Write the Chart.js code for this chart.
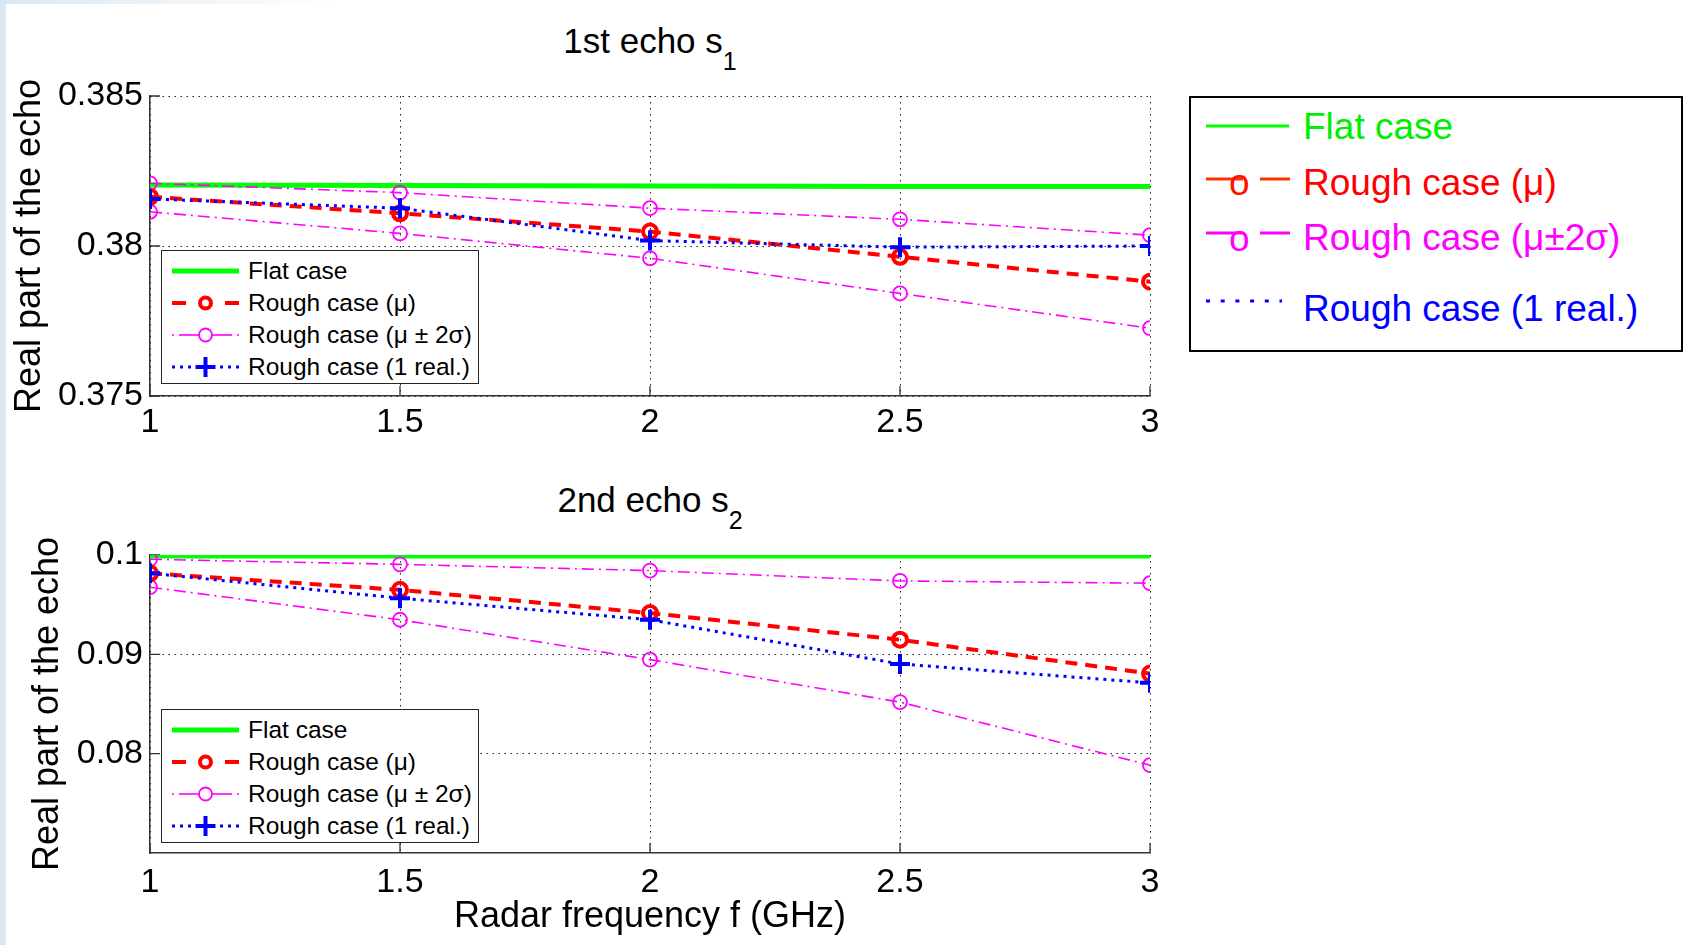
<!DOCTYPE html>
<html>
<head>
<meta charset="utf-8">
<title>Real part of the echo vs radar frequency</title>
<script src="https://cdn.jsdelivr.net/npm/chart.js@4.4.1/dist/chart.umd.min.js"></script>
<style>
  html, body { margin: 0; padding: 0; }
  body {
    width: 1686px; height: 945px; position: relative; overflow: hidden;
    background: #fff; font-family: "Liberation Sans", Arial, sans-serif; color: #000;
  }
  .edge { position: absolute; left: 0; top: 0; width: 6px; height: 945px; background: #dbe8f1; }
  .edgeTop { position: absolute; left: 0; top: 0; width: 340px; height: 4px;
    background: linear-gradient(to right, #dbe8f1, rgba(219,232,241,0)); }
  canvas { position: absolute; left: 0; }
  .title { position: absolute; left: 150px; width: 1000px; text-align: center;
    font-size: 35px; line-height: 35px; white-space: nowrap; }
  .title sub { font-size: 25px; vertical-align: baseline; position: relative; top: 17px; }
  .legend { position: absolute; width: 318px; height: 134px; background: #fff;
    border: 1px solid #262626; box-sizing: border-box; }
  .legend .row { position: absolute; left: 0; height: 32px; display: flex; align-items: center; }
  .legend svg { margin-left: 10px; margin-right: 9px; }
  .legend span { font-size: 24.5px; line-height: 24px; white-space: nowrap; }
  .bigLegend { position: absolute; left: 1189px; top: 96px; width: 494px; height: 256px;
    border: 2px solid #000; box-sizing: border-box; }
  .bigText { position: absolute; left: 1303px; font-size: 37px; line-height: 37px; white-space: nowrap; }
</style>
</head>
<body>
<div class="edge"></div>
<div class="edgeTop"></div>

<div class="title" style="top:23px">1st echo s<sub>1</sub></div>
<canvas id="echo1" width="1175" height="446" style="top:0px"></canvas>

<div class="title" style="top:482px">2nd echo s<sub>2</sub></div>
<canvas id="echo2" width="1175" height="485" style="top:460px"></canvas>

<!-- big legend on the right -->
<div class="bigLegend"></div>
<svg style="position:absolute;left:1190px;top:96px" width="110" height="256">
  <line x1="16" y1="30" x2="99" y2="30" stroke="#00ff00" stroke-width="3"/>
  <line x1="16" y1="83" x2="53" y2="83" stroke="#ff3000" stroke-width="3"/>
  <line x1="70" y1="83" x2="100" y2="83" stroke="#ff3000" stroke-width="3"/>
  <text x="39" y="99" fill="#ff1000" font-size="37" font-family="Liberation Sans, Arial, sans-serif">o</text>
  <line x1="16" y1="137" x2="53" y2="137" stroke="#ff00ff" stroke-width="3"/>
  <line x1="70" y1="137" x2="100" y2="137" stroke="#ff00ff" stroke-width="3"/>
  <text x="39" y="155" fill="#ff00ff" font-size="37" font-family="Liberation Sans, Arial, sans-serif">o</text>
  <line x1="16" y1="205" x2="92" y2="205" stroke="#0000ff" stroke-width="3" stroke-dasharray="4 10.7"/>
</svg>
<div class="bigText" style="top:108px;color:#00ee00">Flat case</div>
<div class="bigText" style="top:164px;color:#ff0000">Rough case (μ)</div>
<div class="bigText" style="top:219px;color:#ff00ff">Rough case (μ±2σ)</div>
<div class="bigText" style="top:290px;color:#0000ff">Rough case (1 real.)</div>

<script>
// Radar frequency (GHz)
const freqGHz = [1, 1.5, 2, 2.5, 3];
const xTickLabels = ['1', '1.5', '2', '2.5', '3'];

// 1st echo s1 - real part
const echo1Flat  = [0.38203, 0.38202, 0.38200, 0.38198, 0.38198];
const echo1Mean  = [0.38164, 0.38109, 0.38048, 0.37964, 0.37881];
const echo1Upper = [0.38209, 0.38178, 0.38126, 0.38089, 0.38036];
const echo1Lower = [0.38114, 0.38042, 0.37959, 0.37842, 0.37726];
const echo1Real  = [0.38157, 0.38126, 0.38018, 0.37996, 0.38000];
const echo1YTicks  = [0.375, 0.38, 0.385];
const echo1YLabels = ['0.375', '0.38', '0.385'];

// 2nd echo s2 - real part
const echo2Flat  = [0.0999, 0.0999, 0.0999, 0.0999, 0.0999];
const echo2Mean  = [0.09816, 0.09649, 0.09415, 0.09147, 0.08806];
const echo2Upper = [0.09957, 0.09906, 0.09843, 0.09739, 0.09716];
const echo2Lower = [0.09676, 0.09348, 0.08947, 0.08519, 0.07884];
const echo2Real  = [0.09816, 0.09565, 0.09348, 0.08903, 0.08713];
const echo2YTicks  = [0.08, 0.09, 0.1];
const echo2YLabels = ['0.08', '0.09', '0.1'];

const FONT = "'Liberation Sans', Arial, sans-serif";
Chart.defaults.font.family = FONT;
Chart.defaults.color = '#000';

// MATLAB style short tick marks pointing into the axes
const inwardTicks = {
  id: 'inwardTicks',
  beforeDatasetsDraw(chart) {
    const { ctx, chartArea: a, scales: { x, y } } = chart;
    ctx.save();
    ctx.strokeStyle = '#333';
    ctx.lineWidth = 1.3;
    ctx.beginPath();
    x.ticks.forEach(t => {
      const px = x.getPixelForValue(t.value);
      ctx.moveTo(px, a.bottom); ctx.lineTo(px, a.bottom - 10);
    });
    y.ticks.forEach(t => {
      const py = y.getPixelForValue(t.value);
      ctx.moveTo(a.left, py); ctx.lineTo(a.left + 10, py);
    });
    ctx.stroke();
    ctx.restore();
  }
};

function pts(vals) {
  return freqGHz.map((f, i) => ({ x: f, y: vals[i] }));
}

function magenta(vals) {
  return {
    label: 'Rough case (μ ± 2σ)', data: pts(vals),
    borderColor: '#ff00ff', borderWidth: 1.6, borderDash: [12, 5, 2, 5],
    pointStyle: 'circle', pointRadius: 7, pointBorderWidth: 1.8,
    pointBorderColor: '#ff00ff', pointBackgroundColor: 'rgba(0,0,0,0)', order: 3
  };
}

function echoChart(id, s, yMin, yMax, yTicks, yLabels, cfg) {
  return new Chart(document.getElementById(id), {
    type: 'line',
    data: {
      datasets: [
        { label: 'Flat case', data: pts(s.flat), borderColor: '#00ff00', borderWidth: 5,
          pointRadius: 0, order: 4 },
        magenta(s.upper),
        magenta(s.lower),
        { label: 'Rough case (μ)', data: pts(s.mean), borderColor: '#ff0000', borderWidth: 4,
          borderDash: [12, 8], pointStyle: 'circle', pointRadius: 7, pointBorderWidth: 4,
          pointBorderColor: '#ff0000', pointBackgroundColor: 'rgba(0,0,0,0)', order: 2 },
        { label: 'Rough case (1 real.)', data: pts(s.real), borderColor: '#0000ff', borderWidth: 3,
          borderDash: [3, 5], pointStyle: 'cross', pointRadius: 10, pointBorderWidth: 4,
          pointBorderColor: '#0000ff', order: 1 }
      ]
    },
    options: {
      responsive: false,
      animation: false,
      events: [],
      layout: { padding: { top: cfg.padTop, right: 25, left: 0, bottom: 0 } },
      plugins: { legend: { display: false }, tooltip: { enabled: false } },
      scales: {
        x: {
          type: 'linear', min: 1, max: 3,
          afterBuildTicks: sc => { sc.ticks = freqGHz.map(v => ({ value: v })); },
          afterFit: sc => { sc.height = cfg.xHeight; },
          ticks: { color: '#000', font: { size: 34 }, padding: cfg.xPad,
                   callback: (v, i) => xTickLabels[i] },
          grid: { color: '#222', lineWidth: 1, drawTicks: false },
          border: { display: true, color: '#333', width: 1.5, dash: [1.5, 4.5] },
          title: { display: cfg.xTitle, text: 'Radar frequency f (GHz)', color: '#000',
                   font: { size: 36 }, padding: { top: 0, bottom: 6 } }
        },
        y: {
          min: yMin, max: yMax,
          afterBuildTicks: sc => { sc.ticks = yTicks.map(v => ({ value: v })); },
          afterFit: sc => { sc.width = 150; },
          ticks: { color: '#000', font: { size: 34 }, padding: 7,
                   callback: (v, i) => yLabels[i] },
          grid: { color: '#222', lineWidth: 1, drawTicks: false },
          border: { display: true, color: '#333', width: 1.5, dash: [1.5, 4.5] },
          title: { display: true, text: 'Real part of the echo', color: '#000',
                   font: { size: 36 }, padding: { top: cfg.yTitlePad, bottom: 0 } }
        }
      }
    },
    plugins: [inwardTicks]
  });
}

echoChart('echo1',
  { flat: echo1Flat, mean: echo1Mean, upper: echo1Upper, lower: echo1Lower, real: echo1Real },
  0.375, 0.385, echo1YTicks, echo1YLabels,
  { padTop: 96, xHeight: 50, xPad: 6, xTitle: false, yTitlePad: 8 });

echoChart('echo2',
  { flat: echo2Flat, mean: echo2Mean, upper: echo2Upper, lower: echo2Lower, real: echo2Real },
  0.07, 0.1, echo2YTicks, echo2YLabels,
  { padTop: 95, xHeight: 92, xPad: 9, xTitle: true, yTitlePad: 26 });

// legends drawn inside each plot
const innerLegend = [
  { label: 'Flat case', sample:
    '<line x1="0" y1="12" x2="67" y2="12" stroke="#00ff00" stroke-width="5"/>' },
  { label: 'Rough case (μ)', sample:
    '<line x1="0" y1="12" x2="14" y2="12" stroke="#ff0000" stroke-width="4"/>' +
    '<line x1="53" y1="12" x2="67" y2="12" stroke="#ff0000" stroke-width="4"/>' +
    '<circle cx="33.5" cy="12" r="5.5" fill="none" stroke="#ff0000" stroke-width="4"/>' },
  { label: 'Rough case (μ ± 2σ)', sample:
    '<line x1="0" y1="12" x2="2" y2="12" stroke="#ff00ff" stroke-width="1.6"/>' +
    '<line x1="7" y1="12" x2="27" y2="12" stroke="#ff00ff" stroke-width="1.6"/>' +
    '<line x1="40" y1="12" x2="60" y2="12" stroke="#ff00ff" stroke-width="1.6"/>' +
    '<line x1="65" y1="12" x2="67" y2="12" stroke="#ff00ff" stroke-width="1.6"/>' +
    '<circle cx="33.5" cy="12" r="6.5" fill="none" stroke="#ff00ff" stroke-width="1.8"/>' },
  { label: 'Rough case (1 real.)', sample:
    '<line x1="0" y1="12" x2="67" y2="12" stroke="#0000ff" stroke-width="3" stroke-dasharray="3 5"/>' +
    '<line x1="23.5" y1="12" x2="43.5" y2="12" stroke="#0000ff" stroke-width="4"/>' +
    '<line x1="33.5" y1="2" x2="33.5" y2="22" stroke="#0000ff" stroke-width="4"/>' }
];

function buildInnerLegend(left, top) {
  const box = document.createElement('div');
  box.className = 'legend';
  box.style.left = left + 'px';
  box.style.top = top + 'px';
  innerLegend.forEach((item, i) => {
    const row = document.createElement('div');
    row.className = 'row';
    row.style.top = (3.5 + 32.3 * i) + 'px';
    row.innerHTML = '<svg width="67" height="24">' + item.sample + '</svg><span>' + item.label + '</span>';
    box.appendChild(row);
  });
  document.body.appendChild(box);
}

buildInnerLegend(161, 250);
buildInnerLegend(161, 709);
</script>
</body>
</html>
